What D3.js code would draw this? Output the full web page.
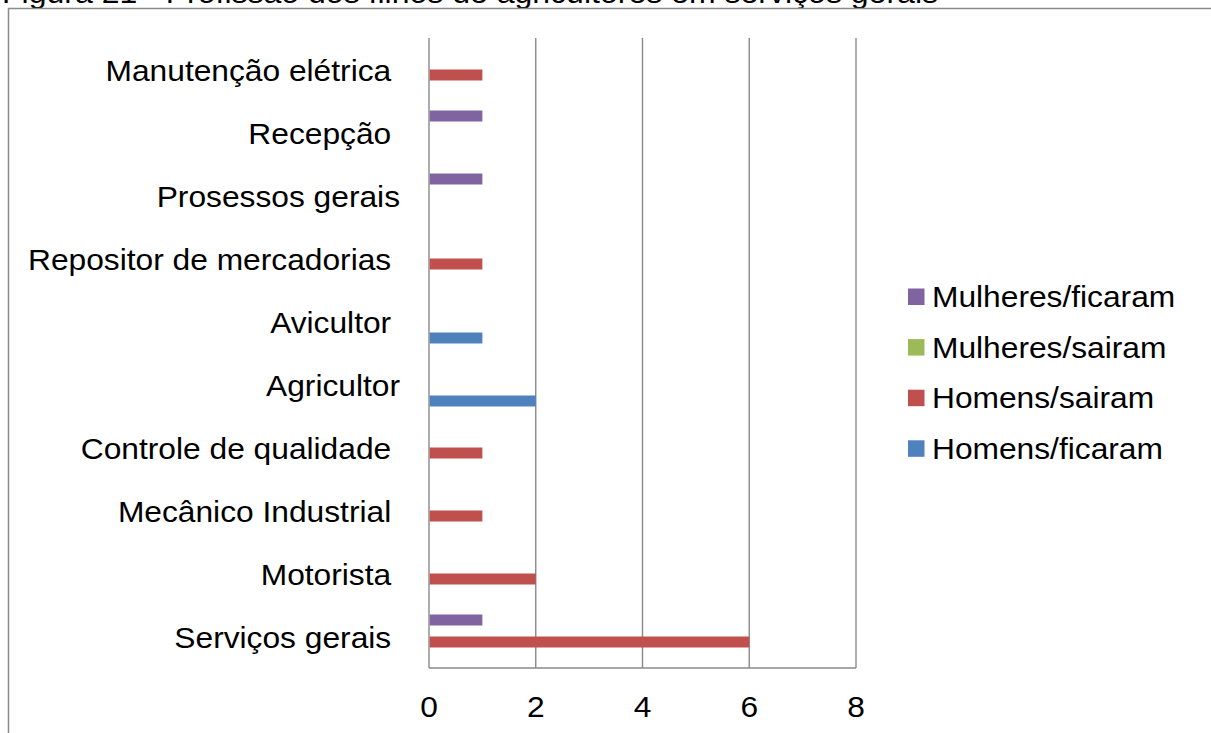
<!DOCTYPE html>
<html><head><meta charset="utf-8">
<script src="https://cdn.jsdelivr.net/npm/d3@7"></script>
<style>
html,body{margin:0;padding:0;background:#fff;overflow:hidden}
text{font-family:"Liberation Sans",Arial,sans-serif;white-space:pre}
</style></head>
<body><svg id="c" width="1211" height="733"></svg>
<script>
// Categories from top to bottom (as displayed)
const categories = ["Manutenção elétrica ","Recepção ","Prosessos gerais","Repositor de mercadorias ","Avicultor ","Agricultor","Controle de qualidade ","Mecânico Industrial ","Motorista ","Serviços gerais "];
const seriesNames = ["Mulheres/ficaram","Mulheres/sairam","Homens/sairam","Homens/ficaram"];
const mulheresFicaram = [0,1,1,0,0,0,0,0,0,1];
const mulheresSairam  = [0,0,0,0,0,0,0,0,0,0];
const homensSairam    = [1,0,0,1,0,0,1,1,2,6];
const homensFicaram   = [0,0,0,0,1,2,0,0,0,0];
const seriesColors = ["#8064A2","#9BBB59","#C0504D","#4F81BD"];
const xTicks = [0,2,4,6,8];
const title = "Figura 21 - Profissão dos filhos de agricultores em serviços gerais";

const seriesValues = [mulheresFicaram, mulheresSairam, homensSairam, homensFicaram];
const svg = d3.select("#c");
const FS = 29.8, SX = 1.065;
const grey = "#8a8a8a";

function txt(g, x, y, s, anchor){
  return g.append("text").attr("transform",`translate(${x},${y}) scale(${SX},1)`)
    .attr("font-size",FS).attr("text-anchor",anchor||"start").attr("fill","#000").text(s);
}

// title (cut off at top, as in the reference)
svg.append("text").attr("x",2).attr("y",3).attr("font-size",FS)
  .attr("textLength",936).attr("lengthAdjust","spacingAndGlyphs").text(title);
// outer frame
svg.append("rect").attr("x",8.5).attr("y",8.5).attr("width",1240).attr("height",760)
  .attr("fill","#fff").attr("stroke",grey).attr("stroke-width",1.5);

const x = d3.scaleLinear().domain([0,8]).range([429,856]);
const y = d3.scaleBand().domain(categories).range([38,668]).padding(0);
const yi = d3.scaleBand().domain(seriesNames).range([0,y.bandwidth()]).paddingInner(0).paddingOuter(0.864);

// gridlines
svg.append("g").selectAll("line").data(xTicks).join("line")
  .attr("x1",d=>x(d)).attr("x2",d=>x(d)).attr("y1",38).attr("y2",668)
  .attr("stroke",grey).attr("stroke-width",1.4);
// bottom axis line
svg.append("line").attr("x1",x(0)).attr("x2",x(8)).attr("y1",668).attr("y2",668)
  .attr("stroke",grey).attr("stroke-width",1.4);

// bars
seriesNames.forEach((s,si)=>{
  svg.append("g").selectAll("rect").data(categories.map((c,i)=>({c,v:seriesValues[si][i]})).filter(d=>d.v>0))
    .join("rect")
    .attr("x",x(0)+0.7).attr("y",d=>y(d.c)+yi(s))
    .attr("width",d=>x(d.v)-x(0)-0.7).attr("height",yi.bandwidth())
    .attr("fill",seriesColors[si]);
});

// x tick labels
const gx = svg.append("g");
xTicks.forEach(t=>txt(gx, x(t), 717, String(t), "middle"));

// category labels
const gy = svg.append("g");
categories.forEach(c=>txt(gy, 400, y(c)+y.bandwidth()/2+11.5, c, "end"));

// legend
const lg = svg.append("g");
seriesNames.forEach((s,i)=>{
  const yy = 307 + i*50.6;
  lg.append("rect").attr("x",908).attr("y",yy-18.5).attr("width",16.5).attr("height",16.5).attr("fill",seriesColors[i]);
  txt(lg, 932, yy, s);
});
</script></body></html>
